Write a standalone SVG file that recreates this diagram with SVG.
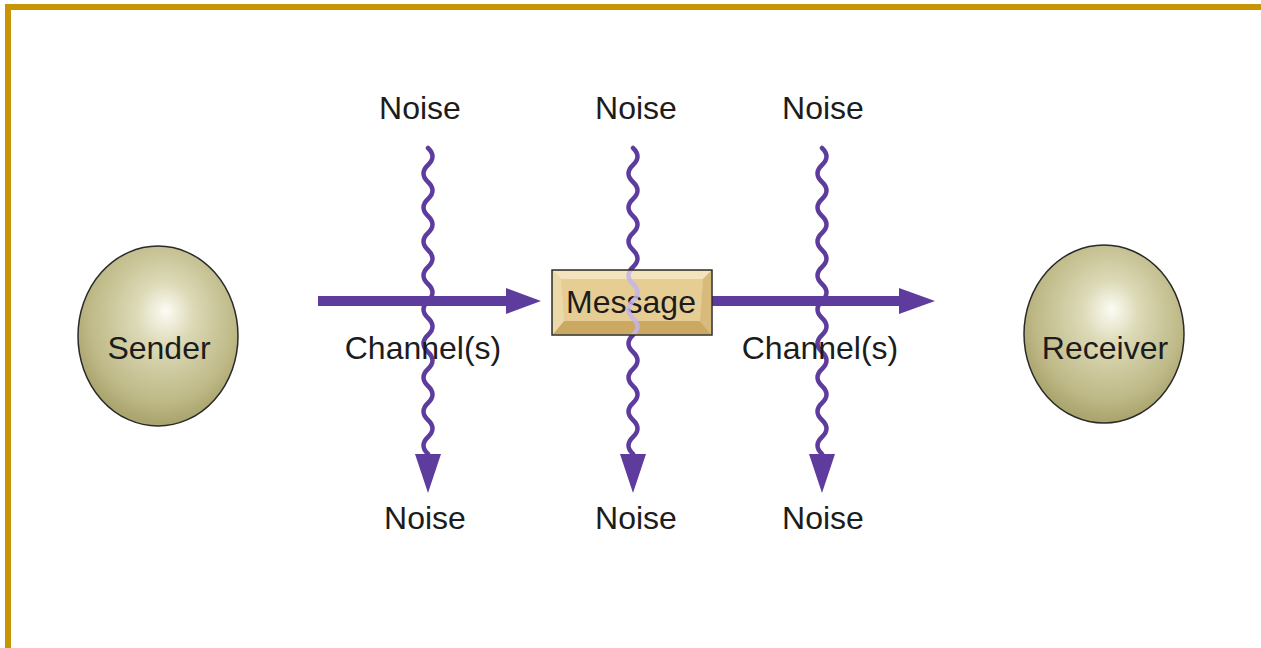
<svg xmlns="http://www.w3.org/2000/svg" width="1261" height="648" viewBox="0 0 1261 648">
  <style>
    .lbl { font-family: "Liberation Sans", Arial, sans-serif; font-size: 32px; fill: #1c1c1c; text-anchor: middle; }
    .wave { fill: none; stroke: #5e3c9e; stroke-width: 4.5; stroke-linecap: round; }
    .wave-lite { fill: none; stroke: #c4b4ea; stroke-width: 4.5; opacity: 0.85; }
    .head { fill: #5e3c9e; }
    .ball { stroke: #2a2a2a; stroke-width: 1.5; }
  </style>
  <defs>
    <radialGradient id="ballFill" cx="0.52" cy="0.42" r="0.6" fx="0.55" fy="0.36">
      <stop offset="0" stop-color="#fcfcf4"/>
      <stop offset="0.3" stop-color="#dcd9b6"/>
      <stop offset="0.75" stop-color="#bfba88"/>
      <stop offset="0.95" stop-color="#aaa56e"/>
      <stop offset="1" stop-color="#b9b583"/>
    </radialGradient>
    <clipPath id="boxClip">
      <rect x="553" y="271" width="158" height="63"/>
    </clipPath>
    <path id="waveShape" d="M0,148 q9,8.5 0,17 t0,17 t0,17 t0,17 t0,17 t0,17 t0,17 t0,17 t0,17 t0,17 t0,17 t0,17 t0,17 t0,17 t0,17 t0,17 t0,17 t0,17"/>
  </defs>

  <!-- frame -->
  <rect x="5" y="4" width="1256" height="6" fill="#c89505"/>
  <rect x="5" y="4" width="6" height="644" fill="#c89505"/>

  <!-- connectors: channel arrows and noise lines -->
  <g id="connectors">
    <rect x="318" y="296" width="192" height="10" fill="#5e3c9e"/>
    <polygon class="head" points="506,288 541,301 506,314"/>
    <rect x="711" y="296" width="190" height="10" fill="#5e3c9e"/>
    <polygon class="head" points="899,288 935,301 899,314"/>

    <use href="#waveShape" class="wave" x="428"/>
    <polygon class="head" points="415,454 441,454 428,493"/>
    <use href="#waveShape" class="wave" x="633"/>
    <polygon class="head" points="620,454 646,454 633,493"/>
    <use href="#waveShape" class="wave" x="822"/>
    <polygon class="head" points="809,454 835,454 822,493"/>
  </g>

  <!-- sender -->
  <g id="sender">
    <ellipse class="ball" cx="158" cy="336" rx="80" ry="90" fill="url(#ballFill)"/>
    <text class="lbl" x="159" y="359">Sender</text>
  </g>

  <!-- receiver -->
  <g id="receiver">
    <ellipse class="ball" cx="1104" cy="334" rx="80" ry="89" fill="url(#ballFill)"/>
    <text class="lbl" x="1105" y="359">Receiver</text>
  </g>

  <!-- message block with bevelled faces -->
  <g id="message">
    <rect x="552" y="270" width="160" height="65" fill="#e6cd94" stroke="#2e2e2e" stroke-width="1.5"/>
    <polygon points="553,271 711,271 703,279 561,279" fill="#f3e4bd"/>
    <polygon points="553,334 711,334 700,321 564,321" fill="#cba962"/>
    <polygon points="553,271 561,279 564,321 553,334" fill="#ecd9aa"/>
    <polygon points="711,271 703,279 700,321 711,334" fill="#d8bb7c"/>
    <text class="lbl" x="631" y="313">Message</text>
    <g clip-path="url(#boxClip)">
      <use href="#waveShape" class="wave-lite" x="633"/>
    </g>
  </g>

  <!-- labels -->
  <g id="labels">
    <text class="lbl" x="420" y="119">Noise</text>
    <text class="lbl" x="636" y="119">Noise</text>
    <text class="lbl" x="823" y="119">Noise</text>
    <text class="lbl" x="425" y="529">Noise</text>
    <text class="lbl" x="636" y="529">Noise</text>
    <text class="lbl" x="823" y="529">Noise</text>
    <text class="lbl" x="423" y="359">Channel(s)</text>
    <text class="lbl" x="820" y="359">Channel(s)</text>
  </g>
</svg>
